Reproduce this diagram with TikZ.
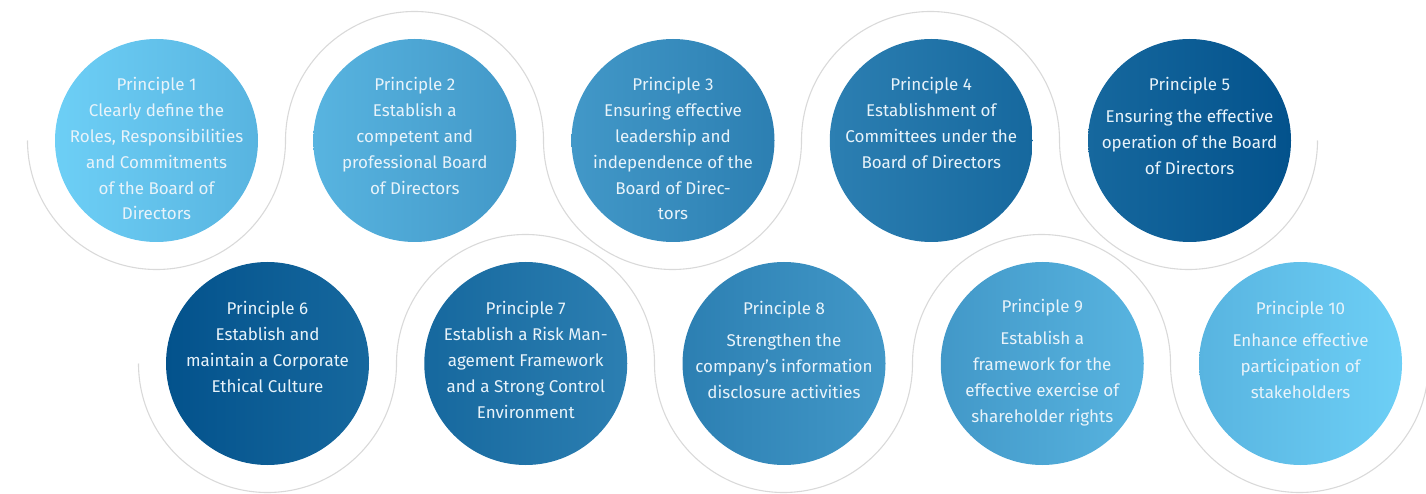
\documentclass[tikz,border=0pt]{standalone}
\usepackage{fontspec}
\setmainfont{Fira Sans}
\definecolor{ca}{RGB}{109,207,246}
\definecolor{cb}{RGB}{88,180,224}
\definecolor{cc}{RGB}{66,152,200}
\definecolor{cd}{RGB}{44,127,178}
\definecolor{ce}{RGB}{22,104,158}
\definecolor{cf}{RGB}{3,82,140}
\definecolor{txtc}{RGB}{232,243,250}
\definecolor{wavec}{RGB}{217,217,217}
\tikzset{
  disc/.style={circle, minimum size=203pt, inner sep=0pt, draw=none},
  ptext/.style={anchor=north, align=center, inner sep=0pt, text=txtc,
    font=\fontsize{17}{25.8}\selectfont},
  wave/.style={draw=wavec, line width=1.1pt}
}
\begin{document}
\begin{tikzpicture}[x=1pt,y=1pt]
\useasboundingbox (0,0) rectangle (1426,493);
% waves
\draw[wave] (27.5,352.5) arc (180:360:129) arc (180:0:129) arc (180:360:129) arc (180:0:129) arc (180:360:129);
\draw[wave] (138.5,129.5) arc (180:360:129) arc (180:0:129) arc (180:360:129) arc (180:0:129) arc (180:360:129);
% top row
\node[disc, left color=ca, right color=cb] (p1) at (156.5,352.5) {};
\node[disc, left color=cb, right color=cc] (p2) at (414.75,352.5) {};
\node[disc, left color=cc, right color=cd] (p3) at (673,352.5) {};
\node[disc, left color=cd, right color=ce] (p4) at (931.25,352.5) {};
\node[disc, left color=ce, right color=cf] (p5) at (1189.5,352.5) {};
% bottom row
\node[disc, left color=cf, right color=ce] (p6) at (267.5,129.5) {};
\node[disc, left color=ce, right color=cd] (p7) at (525.75,129.5) {};
\node[disc, left color=cd, right color=cc] (p8) at (784,129.5) {};
\node[disc, left color=cc, right color=cb] (p9) at (1042.25,129.5) {};
\node[disc, left color=cb, right color=ca] (p10) at (1300.5,129.5) {};
% texts
\node[ptext] (t1) at ([yshift=63pt]p1.center) {Principle 1\\Clearly define the\\Roles, Responsibilities\\and Commitments\\of the Board of\\Directors};
\node[ptext] (t2) at ([yshift=63pt]p2.center) {Principle 2\\Establish a\\competent and\\professional Board\\of Directors};
\node[ptext] (t3) at ([yshift=63pt]p3.center) {Principle 3\\Ensuring effective\\leadership and\\independence of the\\Board of Direc-\\tors};
\node[ptext] (t4) at ([yshift=63pt]p4.center) {Principle 4\\Establishment of\\Committees under the\\Board of Directors};
\node[ptext] (t5) at ([yshift=63pt]p5.center) {Principle 5\\[6pt]Ensuring the effective\\operation of the Board\\of Directors};
\node[ptext] (t6) at ([yshift=62pt]p6.center) {Principle 6\\Establish and\\maintain a Corporate\\Ethical Culture};
\node[ptext] (t7) at ([yshift=62pt]p7.center) {Principle 7\\Establish a Risk Man-\\agement Framework\\and a Strong Control\\Environment};
\node[ptext] (t8) at ([yshift=62pt]p8.center) {Principle 8\\[6pt]Strengthen the\\company\symbol{39}s information\\disclosure activities};
\node[ptext] (t9) at ([yshift=64pt]p9.center) {Principle 9\\[6pt]Establish a\\framework for the\\effective exercise of\\shareholder rights};
\node[ptext] (t10) at ([yshift=62pt]p10.center) {Principle 10\\[6pt]Enhance effective\\participation of\\stakeholders};
\end{tikzpicture}
\end{document}
